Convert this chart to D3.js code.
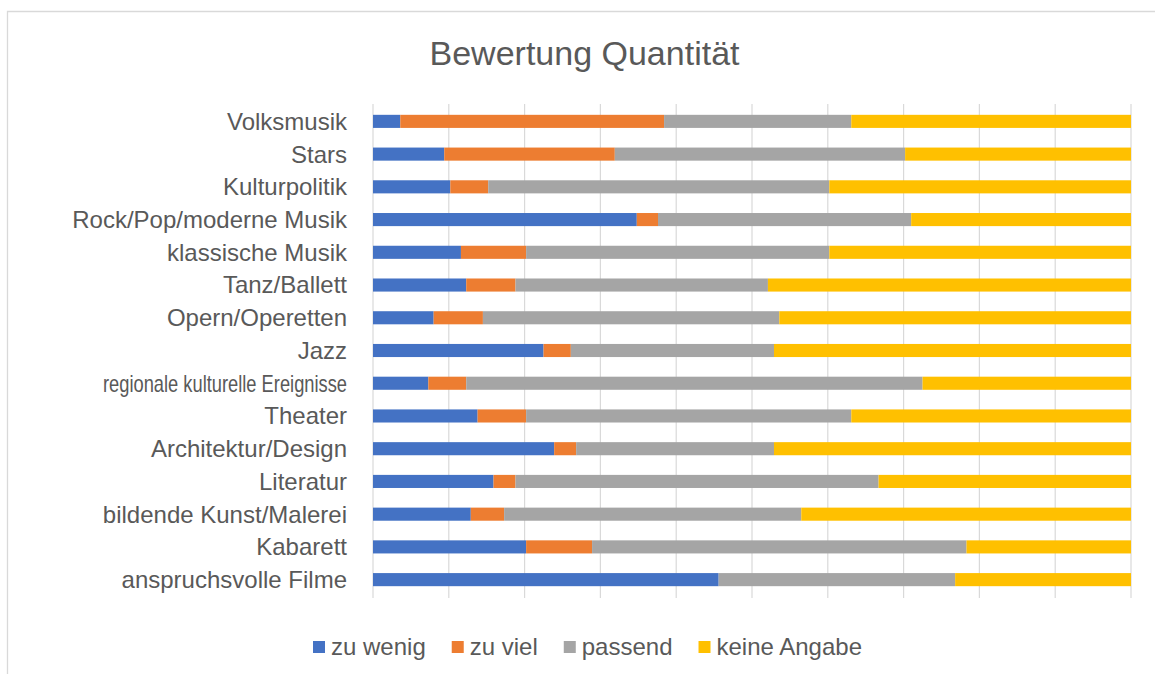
<!DOCTYPE html>
<html>
<head>
<meta charset="utf-8">
<script src="https://cdn.jsdelivr.net/npm/d3@7"></script>
<style>
  body { margin: 0; background: #fff; }
  svg { display: block; font-family: "Liberation Sans", Arial, sans-serif; }
</style>
</head>
<body>
<svg id="chart" width="1155" height="674"></svg>
<script>
const categories = [
  "Volksmusik", "Stars", "Kulturpolitik", "Rock/Pop/moderne Musik", "klassische Musik",
  "Tanz/Ballett", "Opern/Operetten", "Jazz", "regionale kulturelle Ereignisse", "Theater",
  "Architektur/Design", "Literatur", "bildende Kunst/Malerei", "Kabarett", "anspruchsvolle Filme"
];
const seriesNames = ["zu wenig", "zu viel", "passend", "keine Angabe"];
const zuWenig  = [3.6, 9.4, 10.2, 34.8, 11.6, 12.3, 8.0, 22.5, 7.3, 13.8, 23.9, 15.9, 12.9, 20.2, 45.6];
const zuViel   = [34.8, 22.5, 5.0, 2.8, 8.6, 6.5, 6.5, 3.6, 5.0, 6.4, 2.9, 2.9, 4.4, 8.7, 0];
const passend  = [24.7, 38.3, 45.0, 33.4, 40.0, 33.3, 39.1, 26.8, 60.2, 42.9, 26.1, 47.9, 39.2, 49.4, 31.2];
const keineAng = [36.9, 29.8, 39.8, 29.0, 39.8, 47.9, 46.4, 47.1, 27.5, 36.9, 47.1, 33.3, 43.5, 21.7, 23.2];
const colors = ["#4472c4", "#ed7d31", "#a5a5a5", "#ffc000"];

const rows = categories.map((c, i) => ({
  cat: c,
  "zu wenig": zuWenig[i],
  "zu viel": zuViel[i],
  "passend": passend[i],
  "keine Angabe": keineAng[i]
}));

const stack = d3.stack().keys(seriesNames).offset(d3.stackOffsetExpand);
const layers = stack(rows);

const svg = d3.select("#chart");

// chart frame
svg.append("path")
  .attr("d", "M7.5,674 V11.5 H1155")
  .attr("fill", "none")
  .attr("stroke", "#d9d9d9")
  .attr("stroke-width", 1.3);

const x = d3.scaleLinear().domain([0, 1]).range([373, 1131]);
const y = d3.scaleBand().domain(categories).range([105, 596]).paddingInner(0.6).paddingOuter(0.3);

// gridlines
svg.append("g")
  .selectAll("line")
  .data(x.ticks(10))
  .join("line")
  .attr("x1", d => x(d)).attr("x2", d => x(d))
  .attr("y1", 104).attr("y2", 598)
  .attr("stroke", "#d9d9d9")
  .attr("stroke-width", 1.2);

// bars
svg.append("g")
  .selectAll("g")
  .data(layers)
  .join("g")
  .attr("fill", (d, i) => colors[i])
  .selectAll("rect")
  .data(d => d)
  .join("rect")
  .attr("x", d => x(d[0]))
  .attr("y", d => y(d.data.cat))
  .attr("width", d => x(d[1]) - x(d[0]))
  .attr("height", y.bandwidth());

// category labels (the long one is squeezed like in the original)
svg.append("g")
  .selectAll("text")
  .data(categories)
  .join("text")
  .attr("x", 347)
  .attr("y", d => y(d) + y.bandwidth() / 2)
  .attr("dy", "0.35em")
  .attr("text-anchor", "end")
  .attr("font-size", 24)
  .attr("fill", "#595959")
  .text(d => d)
  .each(function (d) {
    if (d === "regionale kulturelle Ereignisse") {
      d3.select(this).attr("textLength", 244).attr("lengthAdjust", "spacingAndGlyphs");
    }
  });

// title
svg.append("text")
  .attr("x", 584.5)
  .attr("y", 65)
  .attr("text-anchor", "middle")
  .attr("font-size", 34)
  .attr("fill", "#595959")
  .text("Bewertung Quantität");

// legend
const legend = svg.append("g");
let lx = 313;
seriesNames.forEach((name, i) => {
  legend.append("rect")
    .attr("x", lx).attr("y", 641)
    .attr("width", 12).attr("height", 12)
    .attr("fill", colors[i]);
  const t = legend.append("text")
    .attr("x", lx + 18).attr("y", 647)
    .attr("dy", "0.35em")
    .attr("font-size", 24)
    .attr("fill", "#595959")
    .text(name);
  lx += 18 + t.node().getComputedTextLength() + 26;
});
</script>
</body>
</html>
